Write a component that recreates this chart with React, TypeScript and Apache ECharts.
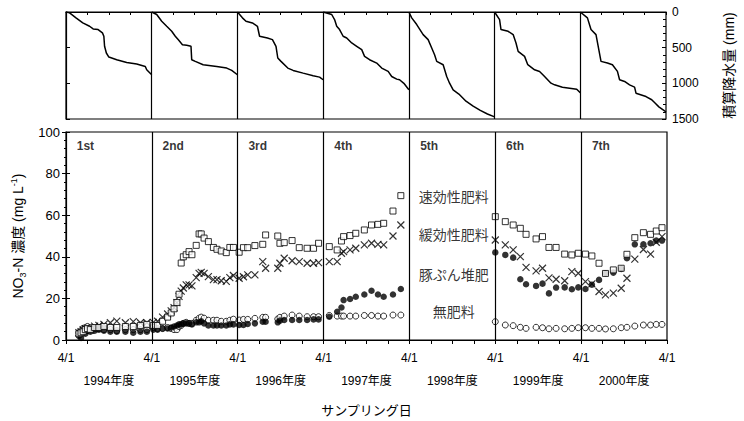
import React, { useEffect, useRef } from "react";
import * as echarts from "echarts";

const FONT = "'Liberation Sans', Arial, 'Noto Sans CJK JP', sans-serif";

const periodLabels = ["1st", "2nd", "3rd", "4th", "5th", "6th", "7th"];
const yearLabels = ["1994年度", "1995年度", "1996年度", "1997年度", "1998年度", "1999年度", "2000年度"];
const treatmentNames = ["速効性肥料", "緩効性肥料", "豚ぷん堆肥", "無肥料"];

// cumulative rainfall (mm) within each fiscal year: [month since 4/1, mm]
const rain1994 = [[0,0],[0.5,12],[1.4,82],[2.35,153],[3.3,200],[3.8,237],[4.5,246],[5.1,293],[5.3,340],[5.4,481],[5.65,575],[6.0,632],[7.1,669],[8.5,707],[9.9,730],[11.1,763],[11.3,810],[12,880]];
const rain1995 = [[0,0],[0.7,35],[1.4,129],[2.1,200],[2.8,270],[3.3,340],[3.7,387],[4.3,458],[4.9,467],[5.5,481],[5.6,669],[6.1,692],[7.2,739],[9.1,763],[10.5,786],[11.2,819],[12,880]];
const rain1996 = [[0,0],[0.7,82],[1.2,129],[2.1,153],[2.8,200],[3.1,340],[4.2,364],[4.9,387],[5.4,481],[5.65,645],[6.1,692],[7.05,786],[7.8,819],[9.2,857],[10.6,894],[11.5,913],[12,950]];
const rain1997 = [[0,0],[1.2,35],[1.6,106],[1.9,200],[2.3,246],[2.8,340],[3.3,364],[4.0,434],[4.7,481],[5.4,528],[5.8,622],[6.5,669],[7.5,716],[8.2,786],[9.1,833],[9.6,904],[10.3,941],[10.7,950],[11.3,1000],[12,1090]];
const rain1998 = [[0,0],[0.4,82],[1.1,176],[2.0,317],[2.7,387],[3.2,505],[3.6,599],[3.9,692],[4.8,739],[5.3,904],[5.7,998],[6.2,1092],[7,1150],[8,1250],[9,1320],[10,1380],[11,1430],[12,1470]];
const rain1999 = [[0,0],[0.7,106],[0.9,246],[1.9,270],[2.6,317],[3.0,434],[3.3,552],[4.2,622],[4.65,739],[5.6,810],[6.3,833],[7.0,904],[7.9,998],[8.4,1021],[9.5,1054],[10.5,1068],[11.5,1082],[12,1133]];
const rain2000 = [[0,0],[1.0,82],[1.5,246],[2.2,317],[2.9,692],[3.8,716],[4.5,739],[5.2,833],[5.5,950],[6.2,974],[6.9,1021],[7.6,1054],[7.8,1138],[9.2,1185],[10,1230],[10.5,1280],[11,1330],[12,1400]];
const rainByYear = [rain1994, rain1995, rain1996, rain1997, rain1998, rain1999, rain2000];

// sampling dates (months since 1994/4/1)
const sampleMonths = [
  1.8, 2.1, 2.4, 2.7, 3.0, 3.4, 4.0, 4.6, 5.3, 6.2, 7.1, 8.3, 9.4, 10.4, 11.3,
  12.2, 12.8, 13.5, 14.2, 14.7, 15.1, 15.5, 15.8, 16.1, 16.4, 16.8, 17.2, 17.6, 18.2, 18.6, 18.9, 19.3, 19.9, 20.6, 21.1, 21.7, 22.4, 22.9, 23.4,
  24.2, 24.8, 25.4, 26.4, 27.5, 27.9, 29.6, 29.9, 30.5, 31.6, 32.6, 33.7, 34.6, 35.3,
  36.8, 37.9, 38.5, 38.8, 39.7, 40.5, 41.7, 42.7, 43.6, 44.4, 45.7, 46.8,
  60, 61.4, 62.5, 63.5, 64.3, 65.7, 66.6, 67.5, 68.5, 69.7, 70.7, 71.6,
  72.6, 73.5, 74.5, 75.4, 76.5, 77.6, 78.4, 79.5, 80.7, 81.7, 82.5, 83.3
];
const quickFert = [
  3, 3.5, 4, 5, 5.5, 5, 6, 6, 6.5, 6, 6, 6.5, 6.5, 7, 7.5,
  7, 7, 9, 11, 13, 15, 18, 22, 37, 40, 41, 42.5, 41, 45.5, 51, 51, 49, 47.3, 44.5, 43.6, 42.8, 42, 44.5, 44.5,
  42.2, 44.4, 44.4, 45.4, 46, 50.5, 50, 46.5, 46.8, 47.8, 44.4, 44.1, 44.1, 46.5,
  44.9, 43.3, 47.6, 49.7, 50.2, 51.3, 52.9, 55.3, 55.6, 56.1, 62, 69.4,
  59.3, 56.9, 55.3, 53.7, 50.8, 48.6, 49.7, 44.5, 44.5, 41.3, 40.9, 41.7,
  41.3, 40.4, 36.9, 32, 33.7, 34.5, 41.2, 49.2, 51.6, 50.8, 52.4, 54
];
const slowFert = [
  3.5, 4, 5, 5.5, 5, 4.8, 6.7, 7, 7.5, 8.3, 9.1, 8.3, 8.8, 8.3, 8.3,
  8.5, 9, 11, 12.5, 14, 15.5, 18, 21, 23.5, 25, 26.5, 26.5, 26, 30, 32, 32.5, 32, 30.5, 29, 29, 28.5, 28.2, 30, 31,
  29.7, 30.4, 31.3, 31.3, 37.7, 34.5, 34.5, 36.9, 39.3, 38.1, 37.7, 36.9, 36.9, 37.2,
  37.7, 37.7, 41.7, 42.5, 43.3, 44.1, 45.7, 46.5, 46, 45.7, 50, 55.3,
  48.1, 45.7, 43.3, 40.1, 34.9, 33.2, 34.5, 29.9, 29.2, 28.5, 32.9, 32.1,
  28.1, 27, 23.3, 21.7, 22.5, 24.9, 29.7, 38.9, 43.5, 41.3, 47, 49.7
];
const pigManure = [
  2, 1, 4, 3, 4.5, 4, 4.5, 5, 4.5, 4, 4, 4, 3.5, 4, 4,
  5, 5, 5.5, 5.5, 6, 6.5, 7, 7.5, 7.5, 8, 8, 8, 7.5, 8.5, 8.5, 9, 8, 7, 7, 7, 7, 7, 7.5, 7.5,
  7.2, 7.2, 7.7, 8, 8.8, 8.8, 8.5, 9.3, 9.6, 9.6, 9.6, 9.6, 9.9, 9.9,
  11.2, 13.6, 15.6, 19.2, 19.7, 20.8, 21.9, 23.7, 21.9, 20.8, 21.9, 24.5,
  42.1, 40.9, 39.6, 29.2, 26.8, 26, 27.1, 22.4, 25.2, 25.3, 24.4, 25.3,
  24.5, 26.6, 28.9, 32.1, 32.4, 34.2, 39.3, 46, 46, 46.5, 47.8, 47.8
];
const noFert = [
  3.5, 4.5, 5.5, 6, 6.5, 6, 5.5, 5.5, 5, 5, 4.5, 5, 5, 5, 5,
  6, 5.5, 5.5, 6, 5.5, 5, 5, 6.5, 7, 8, 8.5, 8, 8, 9.5, 10.5, 11, 10.5, 9.5, 9.5, 9.5, 9, 9, 9.5, 10,
  9.6, 9.9, 9.9, 10.4, 10.9, 10.9, 10.1, 10.9, 11.5, 12, 11.5, 11.2, 11.2, 11.2,
  11.8, 11.5, 11.5, 11.5, 11.5, 11.5, 11.8, 11.8, 11.5, 11.5, 12, 12,
  8.8, 7.2, 6.9, 6.1, 5.6, 6.1, 5.9, 5.4, 5.6, 5.4, 5.6, 5.9,
  5.9, 5.6, 5.6, 5.3, 5.4, 5.9, 6.1, 6.7, 7.2, 7.2, 7.5, 7.5
];
const yearBoundaries = [12, 24, 36, 48, 60, 72];

export default function App() {
  const ref = useRef<HTMLDivElement>(null);
  useEffect(() => {
    if (!ref.current) return;
    const chart = echarts.init(ref.current, undefined, { renderer: "svg" });
    const yearLines = {
      silent: true,
      symbol: ["none", "none"],
      label: { show: false },
      lineStyle: { color: "#000", width: 1.2, type: "solid" },
      emphasis: { disabled: true },
      data: yearBoundaries.map((v) => ({ xAxis: v })),
    };
    const rainSeries = rainByYear.map((yr, i) => ({
      type: "line",
      xAxisIndex: 0,
      yAxisIndex: 0,
      data: yr.map(([m, r]) => [i * 12 + m, r]),
      symbol: "none",
      showSymbol: false,
      lineStyle: { color: "#000", width: 1.5 },
      ...(i === 0 ? { markLine: yearLines } : {}),
    }));
    const sc = (vals: number[]) => sampleMonths.map((m, i) => [m, vals[i]]);
    const labelY = [68.6, 50.5, 31.3, 13.3];
    const option: any = {
      animation: false,
      backgroundColor: "#fff",
      textStyle: { fontFamily: FONT, color: "#000" },
      grid: [
        { left: 66, right: 77, top: 12, height: 107, show: true, borderColor: "#000", borderWidth: 1.2, backgroundColor: "transparent" },
        { left: 66, right: 77, top: 132, height: 208, show: true, borderColor: "#000", borderWidth: 1.2, backgroundColor: "transparent" },
      ],
      xAxis: [
        {
          gridIndex: 0, type: "value", min: 0, max: 84, interval: 3, position: "top",
          axisLine: { lineStyle: { color: "#000", width: 1.2 } },
          axisTick: { inside: true, length: 3, lineStyle: { color: "#000" } },
          axisLabel: { show: false }, splitLine: { show: false },
        },
        {
          gridIndex: 1, type: "value", min: 0, max: 84, interval: 3, position: "bottom",
          axisLine: { lineStyle: { color: "#000", width: 1.2 } },
          axisTick: { length: 4, lineStyle: { color: "#000" } },
          axisLabel: {
            formatter: (v: number) => (v % 12 === 0 ? "4/1" : ""),
            fontSize: 12, margin: 12, color: "#000", fontFamily: FONT,
            showMinLabel: true, showMaxLabel: true,
          },
          splitLine: { show: false },
          name: "サンプリング日", nameLocation: "middle", nameGap: 64,
          nameTextStyle: { fontSize: 13, color: "#000", fontFamily: FONT },
        },
        {
          gridIndex: 1, type: "category", data: yearLabels, position: "bottom", offset: 27,
          boundaryGap: true,
          axisLine: { show: false }, axisTick: { show: false },
          axisLabel: { fontSize: 12, margin: 8, color: "#000", fontFamily: FONT, interval: 0 },
          splitLine: { show: false },
        },
      ],
      yAxis: [
        {
          gridIndex: 0, type: "value", min: 0, max: 1500, interval: 500, inverse: true, position: "right",
          axisLine: { show: true, lineStyle: { color: "#000", width: 1.2 } },
          axisTick: { show: true, length: 4, lineStyle: { color: "#000" } },
          axisLabel: { fontSize: 12, margin: 6, color: "#000", fontFamily: FONT, formatter: (v: number) => String(v) },
          splitLine: { show: false },
          name: "積算降水量 (mm)", nameLocation: "middle", nameRotate: 90, nameGap: 56,
          nameTextStyle: { fontSize: 14, color: "#000", fontFamily: FONT },
        },
        {
          gridIndex: 0, type: "value", min: 0, max: 1500, interval: 500, inverse: true, position: "right",
          axisLine: { show: false },
          axisTick: { show: true, inside: true, length: 4, lineStyle: { color: "#000" } },
          minorTick: { show: true, splitNumber: 5, length: 3, lineStyle: { color: "#000" } },
          axisLabel: { show: false }, splitLine: { show: false },
        },
        {
          gridIndex: 1, type: "value", min: 0, max: 100, interval: 20, position: "left",
          axisLine: { show: true, lineStyle: { color: "#000", width: 1.2 } },
          axisTick: { show: true, length: 4, lineStyle: { color: "#000" } },
          minorTick: { show: true, splitNumber: 5, length: 2, lineStyle: { color: "#000" } },
          axisLabel: { fontSize: 13, margin: 6, color: "#000", fontFamily: FONT },
          splitLine: { show: false },
          name: "NO{sub|3}-N 濃度 (mg L{sup|-1})", nameLocation: "middle", nameRotate: 90, nameGap: 38,
          nameTextStyle: {
            fontSize: 14, color: "#000", fontFamily: FONT, lineHeight: 18,
            rich: {
              sub: { fontSize: 9, fontFamily: FONT, color: "#000", verticalAlign: "bottom", lineHeight: 18 },
              sup: { fontSize: 9, fontFamily: FONT, color: "#000", verticalAlign: "top", lineHeight: 18 },
            },
          },
        },
        {
          gridIndex: 1, type: "value", min: 0, max: 100, interval: 20, position: "left",
          axisLine: { show: false },
          axisTick: { show: true, inside: true, length: 4, lineStyle: { color: "#000" } },
          axisLabel: { show: false }, splitLine: { show: false },
        },
      ],
      series: [
        ...rainSeries,
        {
          type: "scatter", xAxisIndex: 1, yAxisIndex: 2, data: sc(noFert),
          symbol: "circle", symbolSize: 6,
          itemStyle: { color: "#fff", borderColor: "#000", borderWidth: 1 },
          markLine: yearLines,
        },
        {
          type: "scatter", xAxisIndex: 1, yAxisIndex: 2, data: sc(pigManure),
          symbol: "circle", symbolSize: 6.5,
          itemStyle: { color: "#000", borderColor: "#000", borderWidth: 0 },
        },
        {
          type: "scatter", xAxisIndex: 1, yAxisIndex: 2, data: sc(slowFert),
          symbol: "path://M0,0L10,10M10,0L0,10", symbolSize: 7,
          itemStyle: { color: "none", borderColor: "#000", borderWidth: 1.2 },
        },
        {
          type: "scatter", xAxisIndex: 1, yAxisIndex: 2, data: sc(quickFert),
          symbol: "rect", symbolSize: 6,
          itemStyle: { color: "#fff", borderColor: "#000", borderWidth: 1 },
        },
        {
          type: "scatter", xAxisIndex: 1, yAxisIndex: 2, symbolSize: 0, silent: true,
          data: periodLabels.map((t, i) => ({ name: t, value: [i * 12 + 1.5, 93.4] })),
          label: { show: true, position: "right", distance: 0, formatter: "{b}", fontWeight: "bold", fontSize: 12, color: "#000", fontFamily: FONT },
        },
        {
          type: "scatter", xAxisIndex: 1, yAxisIndex: 2, symbolSize: 0, silent: true,
          data: treatmentNames.map((t, i) => ({ name: t, value: [54.2, labelY[i]] })),
          label: { show: true, position: "inside", formatter: "{b}", fontSize: 14, color: "#000", fontFamily: FONT },
        },
      ],
    };
    chart.setOption(option);
    return () => chart.dispose();
  }, []);
  return <div ref={ref} style={{ position: "fixed", left: 0, top: 0, width: 744, height: 421, background: "#fff" }} />;
}
